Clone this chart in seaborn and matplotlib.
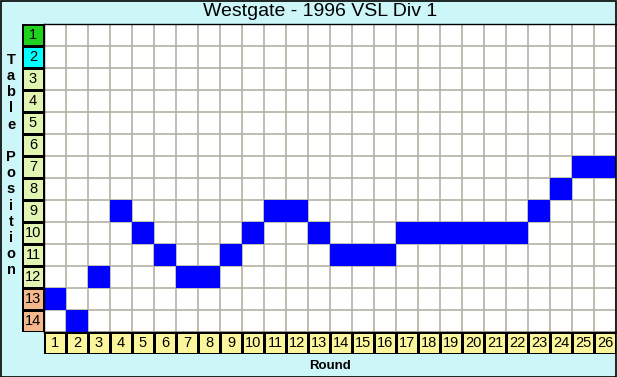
import numpy as np
import matplotlib
matplotlib.use("Agg")
import matplotlib.pyplot as plt
from matplotlib.colors import ListedColormap
import seaborn as sns

# === Data ===
rounds = list(range(1, 27))
positions = list(range(1, 15))
ladder_pos = [13, 14, 12, 9, 10, 11, 12, 12, 11, 10, 9, 9, 10,
              11, 11, 11, 10, 10, 10, 10, 10, 10, 9, 8, 7, 7]
# label cell colour group per table position: 0 top, 1 second, 2 middle, 3 bottom
pos_group = [0, 1, 2, 2, 2, 2, 2, 2, 2, 2, 2, 2, 3, 3]

bg = "#cdf6f8"
sns.set_theme(style="white")
plt.rcParams["font.family"] = ["Liberation Sans", "DejaVu Sans"]

W, H = 617, 377
fig = plt.figure(figsize=(W / 100, H / 100), dpi=100)
fig.patch.set_facecolor(bg)

# main grid
mat = np.zeros((len(positions), len(rounds)))
for c, p in enumerate(ladder_pos):
    mat[p - 1, c] = 1

ax = fig.add_axes([44 / W, (H - 332) / H, 572 / W, 308 / H])
ax.set_facecolor("white")
sns.heatmap(mat, mask=(mat == 0), cmap=ListedColormap(["#0000ff"]), cbar=False,
            ax=ax, xticklabels=False, yticklabels=False)
ax.set_xticks(np.arange(0, len(rounds) + 1), minor=True)
ax.set_yticks(np.arange(0, len(positions) + 1), minor=True)
ax.grid(which="minor", color="#b4b0a4", linewidth=1.2)
ax.set_axisbelow(True)
ax.tick_params(which="both", length=0)
ax.set_xlim(0, len(rounds))
ax.set_ylim(len(positions), 0)
for s in ax.spines.values():
    s.set_visible(True)
    s.set_color("black")
    s.set_linewidth(1)
ax.spines["right"].set_visible(False)

# position label column
lab = np.array(pos_group).reshape(-1, 1)
axl = fig.add_axes([22 / W, (H - 332) / H, 22 / W, 308 / H])
sns.heatmap(lab, cmap=ListedColormap(["#1ed21e", "#00ffff", "#e2f4b2", "#f4b88c"]),
            vmin=-0.5, vmax=3.5, cbar=False, ax=axl,
            annot=np.array(positions).reshape(-1, 1), fmt="d",
            annot_kws={"color": "black", "fontsize": 10.5},
            linewidths=1, linecolor="black", xticklabels=False, yticklabels=False)
axl.tick_params(length=0)

# round label row
axb = fig.add_axes([44 / W, (H - 354) / H, 572 / W, 22 / H])
sns.heatmap(np.zeros((1, len(rounds))), cmap=ListedColormap(["#fbf69c"]), cbar=False, ax=axb,
            annot=np.array(rounds).reshape(1, -1), fmt="d",
            annot_kws={"color": "black", "fontsize": 10.5},
            linewidths=1, linecolor="black", xticklabels=False, yticklabels=False)
axb.tick_params(length=0)

fig.text(320 / W, 1 - 12 / H, "Westgate - 1996 VSL Div 1", ha="center", va="center",
         fontsize=14, color="black")
fig.text(330 / W, 1 - 366 / H, "Round", ha="center", va="center",
         fontsize=9.5, fontweight="bold", color="black")
fig.text(11 / W, 1 - 165 / H, "\n".join(list("Table Position")), ha="center", va="center",
         fontsize=10.5, fontweight="bold", color="black", linespacing=1.2)

# outer border
fig.add_artist(plt.Rectangle((0.5 / W, 0.5 / H), 1 - 1.5 / W, 1 - 1.5 / H,
                             transform=fig.transFigure, fill=False,
                             edgecolor="black", linewidth=1.2))

fig.savefig("out.png", dpi=100, facecolor=bg)
